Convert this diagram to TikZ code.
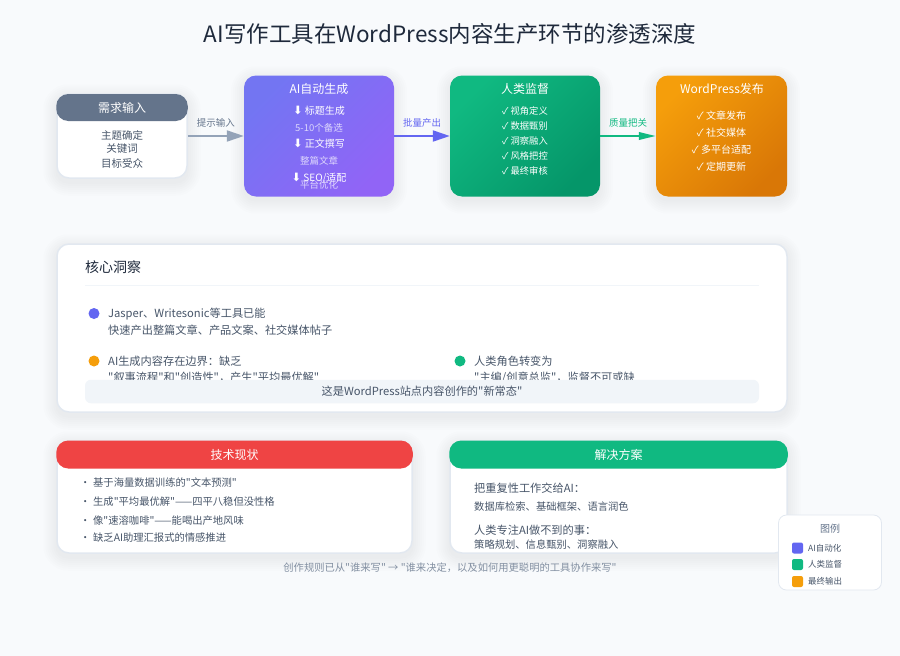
\documentclass[tikz,border=0pt]{standalone}
\usepackage{fontspec}
\setmainfont{Noto Sans CJK SC}[Ligatures=TeXOff]
\newfontfamily\arrowfont{DejaVu Sans}
\usetikzlibrary{calc,backgrounds}
\usetikzlibrary{arrows.meta}
\definecolor{pagebg}{HTML}{F8FAFC}
\definecolor{titleink}{HTML}{1E293B}
\definecolor{bodyink}{HTML}{475569}
\definecolor{softink}{HTML}{64748B}
\definecolor{fadeink}{HTML}{94A3B8}
\definecolor{cardline}{HTML}{E2E8F0}
\definecolor{paleband}{HTML}{F1F5F9}
\definecolor{myindigo}{HTML}{6366F1}
\definecolor{myviolet}{HTML}{8B5CF6}
\definecolor{mygreen}{HTML}{10B981}
\definecolor{mydeepgreen}{HTML}{059669}
\definecolor{myamber}{HTML}{F59E0B}
\definecolor{mydeepamber}{HTML}{D97706}
\definecolor{myred}{HTML}{EF4444}
\newcommand{\fs}[1]{\fontsize{#1}{#1}\selectfont}
\tikzset{
  box/.style={rectangle, inner sep=0, rounded corners=#1},
  card/.style={box=12pt, draw=cardline, line width=1.5pt, fill=white},
  head/.style={box=12pt, fill=softink, text=white, font=\fs{12}},
  flowbox/.style 2 args={box=12pt, top color=#1, bottom color=#2, shading angle=45, minimum height=121pt},
  boxtitle/.style={text=white, font=\fs{12}, inner sep=0},
  boxitem/.style={text=white, font=\fs{10}, inner sep=0},
  boxnote/.style={text=white, text opacity=.72, font=\fs{9.5}, inner sep=0},
  bodytext/.style={text=bodyink, font=\fs{10.5}, inner sep=0},
  lefttext/.style={bodytext, anchor=west, font=\fs{11.2}},
  smalltext/.style={lefttext, font=\fs{10.3}},
  flow/.style 2 args={-{Triangle[length=17pt,width=#2]}, line width=2pt, draw=#1},
  flowlabel/.style={font=\fs{9.5}, inner sep=0, yshift=13pt},
  marker/.style={circle, inner sep=0, minimum size=11pt},
  swatch/.style={box=2pt, minimum size=11pt},
  legendtext/.style={lefttext, font=\fs{8.5}},
}
\begin{document}
\begin{tikzpicture}[x=1pt, y=-1pt]
  \useasboundingbox (0,0) rectangle (900,656);

  % TITLE
  \node[inner sep=0, text=titleink, font=\fs{22.5}] (title) at (450,34) {AI写作工具在WordPress内容生产环节的渗透深度};

  % FLOW BOXES
  \node[card, minimum width=130pt, minimum height=84pt] (inputbox) at (122,136) {};
  \node[head, minimum width=131.5pt, minimum height=27pt] (inputhead) at (122,107.5) {需求输入};
  \foreach \y/\t in {135/主题确定, 149/关键词, 163/目标受众}
    \node[bodytext] (input\y) at (122,\y) {\t};

  \node[flowbox={myindigo!90!white}{myviolet!95!white}, minimum width=150pt] (aibox) at (319,136) {};
  \node[boxtitle] (aititle) at (319,89) {AI自动生成};
  \node[boxitem] (ai1) at (319,111) {{\arrowfont\fs{11.5}⬇} 标题生成};
  \node[boxnote] (ainote1) at (319,128) {5-10个备选};
  \node[boxitem] (ai2) at (319,144) {{\arrowfont\fs{11.5}⬇} 正文撰写};
  \node[boxnote] (ainote2) at (319,161) {整篇文章};
  \node[boxitem] (ai3) at (319,178) {{\arrowfont\fs{11.5}⬇} SEO/适配};
  \node[boxnote] (ainote3) at (319,185) {平台优化};

  \node[flowbox={mygreen}{mydeepgreen}, minimum width=150pt] (humanbox) at (525,136) {};
  \node[boxtitle] (humantitle) at (525,89) {人类监督};
  \foreach \y/\t in {111/视角定义, 126/数据甄别, 141/洞察融入, 156/风格把控, 171/最终审核}
    \node[boxitem, font=\fs{9.3}] (human\y) at (525,\y) {✓ \t};

  \node[flowbox={myamber}{mydeepamber}, minimum width=131pt] (pressbox) at (721.5,136) {};
  \node[boxtitle] (presstitle) at (722,89) {WordPress发布};
  \foreach \y/\t in {116/文章发布, 133/社交媒体, 150/多平台适配, 167/定期更新}
    \node[boxitem] (press\y) at (721.5,\y) {✓ \t};

  % ARROWS
  \draw[flow={fadeink}{11pt}] (inputbox) -- node[flowlabel, text=softink] (label1) {提示输入} (aibox);
  \draw[flow={myindigo}{11pt}] (aibox) -- node[flowlabel, text=myindigo] (label2) {批量产出} (humanbox);
  \draw[flow={mygreen}{7.5pt}] (humanbox) -- node[flowlabel, text=mygreen] (label3) {质量把关} (pressbox);

  % INSIGHT CARD
  \node[card, minimum width=730pt, minimum height=168pt] (insightbox) at (422,328) {};
  \node[lefttext, text=titleink, font=\fs{14}] (insighttitle) at (85,267) {核心洞察};
  \coordinate (ruleleft) at (85,285.5);
  \coordinate (ruleright) at (759,285.5);
  \draw[paleband, line width=1pt] (ruleleft) -- (ruleright);

  \node[marker, fill=myindigo] (dot1) at (94,313.5) {};
  \node[lefttext] (point1a) at (108,314) {Jasper、Writesonic等工具已能};
  \node[lefttext] (point1b) at (108,330.5) {快速产出整篇文章、产品文案、社交媒体帖子};
  \node[marker, fill=myamber] (dot2) at (94,361) {};
  \node[lefttext] (point2a) at (108,361) {AI生成内容存在边界：缺乏};
  \node[lefttext] (point2b) at (108,377.5) {"叙事流程"和"创造性"，产生"平均最优解"};
  \node[marker, fill=mygreen] (dot3) at (460,361) {};
  \node[lefttext] (point3a) at (474,361) {人类角色转变为};
  \node[lefttext] (point3b) at (474,377.5) {"主编/创意总监"，监督不可或缺};
  \node[box=6pt, fill=paleband, minimum width=674pt, minimum height=23.5pt, text=bodyink, font=\fs{11.2}] (newnormal) at (422,391.5) {这是WordPress站点内容创作的"新常态"};

  % STATUS CARD
  \node[card, minimum width=355pt, minimum height=112pt] (statusbox) at (234.5,497) {};
  \node[head, fill=myred, minimum width=356.5pt, minimum height=28pt] (statushead) at (234.5,454.5) {技术现状};
  \foreach \y/\t in {483/基于海量数据训练的"文本预测", 502/生成"平均最优解"——四平八稳但没性格, 521/像"速溶咖啡"——能喝出产地风味, 538/缺乏AI助理汇报式的情感推进}
    \node[smalltext] (status\y) at (80,\y) {\makebox[13pt][l]{·}\t};

  % SOLUTION CARD
  \node[card, minimum width=337pt, minimum height=112pt] (solutionbox) at (618.5,497) {};
  \node[head, fill=mygreen, minimum width=338.5pt, minimum height=28pt] (solutionhead) at (618.5,454.5) {解决方案};
  \node[lefttext] (solution1) at (474,488) {把重复性工作交给AI：};
  \node[smalltext] (solution2) at (474,507) {数据库检索、基础框架、语言润色};
  \node[lefttext] (solution3) at (474,530) {人类专注AI做不到的事：};
  \node[smalltext] (solution4) at (474,544.5) {策略规划、信息甄别、洞察融入};

  % FOOTER
  \node[inner sep=0, text=softink!80!white, font=\fs{10.3}] (footer) at (450,567.5) {创作规则已从"谁来写" → "谁来决定，以及如何用更聪明的工具协作来写"};

  % LEGEND
  \node[box=8pt, draw=cardline, line width=.8pt, fill=white, minimum width=103pt, minimum height=75pt] (legendbox) at (830,552.5) {};
  \node[bodytext, text=softink, font=\fs{10}] (legendtitle) at (830,529) {图例};
  \foreach \y/\c/\t in {548/myindigo/AI自动化, 564.5/mygreen/人类监督, 581.5/myamber/最终输出} {
    \node[swatch, fill=\c] (swatch\c) at (797.5,\y) {};
    \node[legendtext] (legend\c) at (808,\y) {\t};
  }

  % BACKGROUND AND SHADOWS
  \begin{scope}[on background layer]
    \fill[pagebg] (0,0) rectangle (900,656);
    \foreach \n in {inputbox,aibox,humanbox,pressbox,insightbox,statusbox,solutionbox}
      \foreach \g in {1,3,...,13}
        \fill[black!70!blue, opacity=.007, rounded corners={12pt+\g*1pt}]
          ($(\n.north west)+(-\g pt,\g pt-4pt)$) rectangle ($(\n.south east)+(\g pt,-\g pt-4pt)$);
  \end{scope}
\end{tikzpicture}
\end{document}
